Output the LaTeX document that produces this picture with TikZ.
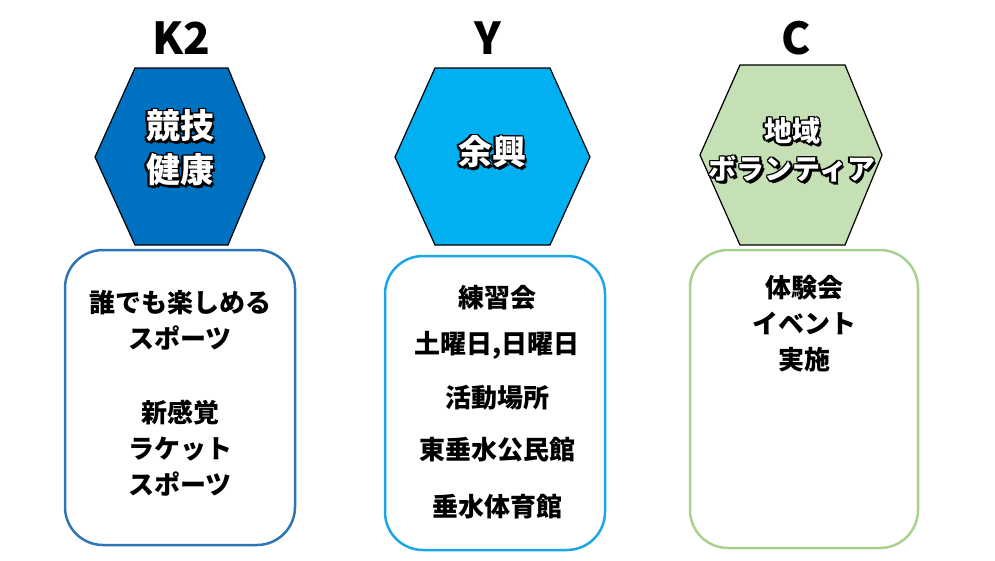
\documentclass[tikz,border=0pt]{standalone}
\usepackage{fontspec}
\setmainfont{Noto Sans CJK JP}
\usetikzlibrary{positioning,calc}
\definecolor{kblue}{HTML}{0070C0}
\definecolor{kline}{HTML}{2E75B6}
\definecolor{ycyan}{HTML}{00B0F0}
\definecolor{yline}{HTML}{1CA6E8}
\definecolor{cgreen}{HTML}{C5E0B4}
\definecolor{cline}{HTML}{A9D18E}
\tikzset{
  title/.style={font=\fontsize{44}{48}\selectfont\bfseries},
  hexfill/.style={draw=black, line width=1.2pt},
  card/.style={rounded corners=38pt, line width=2.5pt, fill=white},
  cardtext/.style={align=center, font=\fontsize{26}{36}\selectfont\bfseries},
}
\newcommand{\hextext}[5]{%
  \foreach \dx/\dy in {-1.6/0,1.6/0,0/-1.6,0/1.6,-1.2/-1.2,1.2/1.2,-1.2/1.2,1.2/-1.2,2.5/2.5}
    \node[align=center, font=\fontsize{#4}{#5}\selectfont\bfseries, text=black] at ($(#1)+(\dx,\dy)$) {#2};
  \node[align=center, font=\fontsize{#4}{#5}\selectfont\bfseries, text=white] (#3) at (#1) {#2};}
\begin{document}
\begin{tikzpicture}[x=1pt, y=-1pt]
   \useasboundingbox (0,0) rectangle (995,560);
   % titles
   \node[title] (tk) at (181,38) {K2};
   \node[title] (ty) at (488,38) {Y};
   \node[title] (tc) at (796,38) {C};
   % hexagons
   \draw[hexfill, fill=kblue] (95,157)--(135,68)--(228,68)--(265,157)--(228,245)--(135,245)--cycle;
   \draw[hexfill, fill=ycyan] (395,157)--(435,68)--(550,68)--(590,157)--(550,245)--(435,245)--cycle;
   \draw[hexfill, fill=cgreen] (700,155)--(740,65)--(845,65)--(882,155)--(845,245)--(740,245)--cycle;
   \hextext{180,148}{競技\\健康}{hk}{34}{44}
   \hextext{492,152}{余興}{hy}{34}{44}
   \hextext{792,150}{地域\\ボランティア}{hc}{28}{38}
   % cards
   \draw[card, draw=kline] (65,250) rectangle (295,545);
   \draw[card, draw=yline] (385,256) rectangle (605,550);
   \draw[card, draw=cline] (690,250) rectangle (918,548);
   \node[cardtext] (bk1) at (180,320) {誰でも楽しめる\\スポーツ};
   \node[cardtext] (bk2) at (180,448) {新感覚\\ラケット\\スポーツ};
   \node[cardtext] (by1) at (497,298) {練習会};
   \node[cardtext] (by2) at (497,345) {土曜日,日曜日};
   \node[cardtext] (by3) at (497,398) {活動場所};
   \node[cardtext] (by4) at (497,450) {東垂水公民館};
   \node[cardtext] (by5) at (497,507) {垂水体育館};
   \node[cardtext] (bc1) at (804,324) {体験会\\イベント\\実施};
\end{tikzpicture}
\end{document}
